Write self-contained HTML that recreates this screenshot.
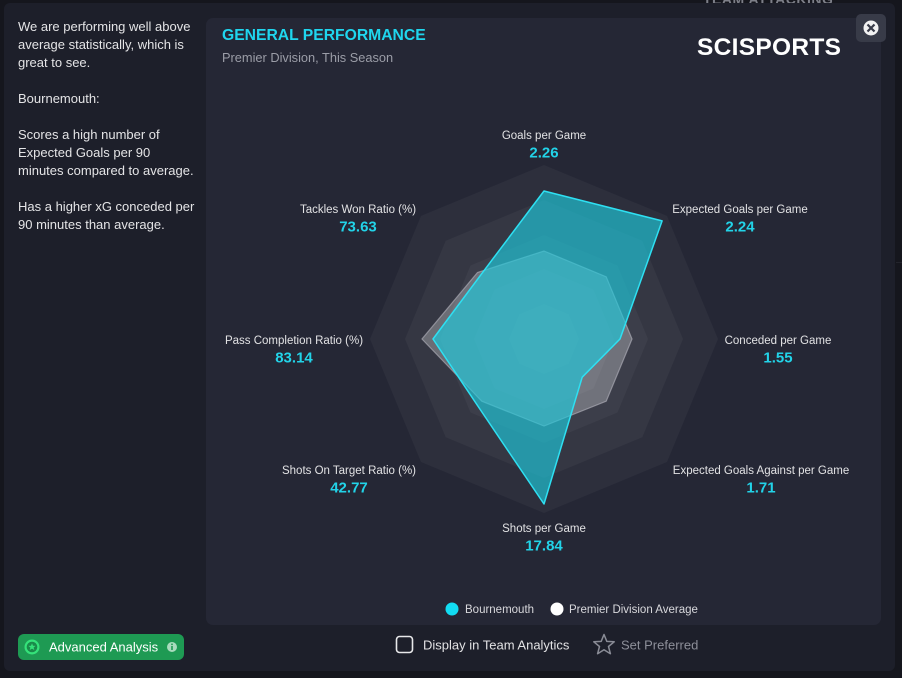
<!DOCTYPE html>
<html><head><meta charset="utf-8"><style>
html,body{margin:0;padding:0;}
body{width:902px;height:678px;background:#15161d;position:relative;overflow:hidden;font-family:"Liberation Sans",sans-serif;}
.bgt{position:absolute;left:703px;top:-9px;font-size:14px;font-weight:bold;color:#7d7f88;letter-spacing:0.5px;}
.dlg{position:absolute;left:4px;top:3px;width:891px;height:668px;background:#1d1f2a;border-radius:6px;}
.side{position:absolute;left:18px;top:18px;width:190px;color:#e4e4e6;font-size:13px;line-height:18px;white-space:nowrap;}
.side p{margin:0 0 18px 0;}
.panel{position:absolute;left:206px;top:18px;width:675px;height:607px;background:#252735;border-radius:7px;}
.title{position:absolute;left:222px;top:27px;font-size:15.7px;font-weight:bold;color:#1fd6ee;}
.sub{position:absolute;left:222px;top:50px;font-size:12.8px;color:#9b9da7;}
.logo{position:absolute;left:697px;top:34px;font-size:24.5px;font-weight:900;color:#fff;letter-spacing:0.3px;}
.close{position:absolute;left:856px;top:14px;width:30px;height:28px;background:#383b48;border-radius:5px;}
</style></head><body>
<div class="bgt">TEAM ATTACKING</div>
<div style="position:absolute;left:896px;top:262px;width:6px;height:1px;background:#23242c"></div>
<div class="dlg"></div>
<div class="side">
<p>We are performing well above<br>average statistically, which is<br>great to see.</p>
<p>Bournemouth:</p>
<p>Scores a high number of<br>Expected Goals per 90<br>minutes compared to average.</p>
<p>Has a higher xG conceded per<br>90 minutes than average.</p>
</div>
<div class="panel"></div>
<div class="title">GENERAL PERFORMANCE</div>
<div class="sub">Premier Division, This Season</div>
<div class="logo">SCISPORTS</div>
<div class="close"></div>
<svg width="902" height="678" style="position:absolute;left:0;top:0" xmlns="http://www.w3.org/2000/svg">
<circle cx="871" cy="28" r="7.5" fill="#f2f2f2"/>
<path d="M867.5 24.5 L874.5 31.5 M874.5 24.5 L867.5 31.5" stroke="#383b48" stroke-width="2.2"/>
<g fill="#ffffff" fill-opacity="0.04">
<polygon points="544,165 667.0,215.9 718,339 667.0,462.0 544,513 421.0,462.0 370,339 421.0,215.9"/>
<polygon points="544,200 642.3,240.7 683,339 642.3,437.3 544,478 445.7,437.3 405,339 445.7,240.7"/>
<polygon points="544,235 617.5,265.5 648,339 617.5,412.5 544,443 470.5,412.5 440,339 470.5,265.5"/>
<polygon points="544,269 593.5,289.5 614,339 593.5,388.5 544,409 494.5,388.5 474,339 494.5,289.5"/>
<polygon points="544,304 568.7,314.3 579,339 568.7,363.7 544,374 519.3,363.7 509,339 519.3,314.3"/>
</g>
<polygon points="544,251 606.2,276.8 632,339 606.2,401.2 544,426 481.8,401.2 422,339 477.5,272.5" fill="#ffffff" fill-opacity="0.27" stroke="#a9aab3" stroke-opacity="0.7" stroke-width="1.2"/>
<polygon points="544,191 662.1,220.9 620,339 582.2,377.2 544,504 477.5,405.5 433,339 480.4,275.4" fill="#1ec8db" fill-opacity="0.66" stroke="#2ee0f2" stroke-width="1.5" stroke-linejoin="round"/>
<g font-family="Liberation Sans, sans-serif" text-anchor="middle">
<g font-size="11.5" fill="#e2e2e4">
<text x="544" y="139">Goals per Game</text>
<text x="740" y="213">Expected Goals per Game</text>
<text x="778" y="344">Conceded per Game</text>
<text x="761" y="474">Expected Goals Against per Game</text>
<text x="544" y="532">Shots per Game</text>
<text x="349" y="474">Shots On Target Ratio (%)</text>
<text x="294" y="344">Pass Completion Ratio (%)</text>
<text x="358" y="213">Tackles Won Ratio (%)</text>
</g>
<g font-size="15" font-weight="bold" fill="#22d3e8">
<text x="544" y="157.5">2.26</text>
<text x="740" y="231.5">2.24</text>
<text x="778" y="362.5">1.55</text>
<text x="761" y="492.5">1.71</text>
<text x="544" y="550.5">17.84</text>
<text x="349" y="492.5">42.77</text>
<text x="294" y="362.5">83.14</text>
<text x="358" y="231.5">73.63</text>
</g>
</g>
<circle cx="452" cy="609" r="6.5" fill="#12dcf2"/>
<text x="465" y="613" font-family="Liberation Sans, sans-serif" font-size="11.5" fill="#d8d8dc">Bournemouth</text>
<circle cx="557" cy="609" r="6.5" fill="#ffffff"/>
<text x="569" y="613" font-family="Liberation Sans, sans-serif" font-size="11.5" fill="#d8d8dc">Premier Division Average</text>
<rect x="396.5" y="636.5" width="16" height="16" rx="3" fill="none" stroke="#e8e8ea" stroke-width="1.6"/>
<text x="423" y="649.5" font-family="Liberation Sans, sans-serif" font-size="13" fill="#e2e2e4">Display in Team Analytics</text>
<polygon points="604,634.5 606.8,641.4 614.2,641.8 608.5,646.5 610.4,653.7 604,649.7 597.6,653.7 599.5,646.5 593.8,641.8 601.2,641.4" fill="none" stroke="#8a8c96" stroke-width="1.5" stroke-linejoin="round"/>
<text x="621" y="649.5" font-family="Liberation Sans, sans-serif" font-size="13" fill="#8d8f99">Set Preferred</text>
<rect x="18" y="634" width="166" height="26" rx="6" fill="#1e9a53"/>
<circle cx="32" cy="647" r="7.5" fill="#35e27a"/>
<circle cx="32" cy="647" r="5.3" fill="#1a8a4a"/>
<polygon points="32,643.3 33,645.8 35.6,645.9 33.6,647.5 34.3,650 32,648.6 29.7,650 30.4,647.5 28.4,645.9 31,645.8" fill="#35e27a"/>
<text x="49" y="651.5" font-family="Liberation Sans, sans-serif" font-size="13" fill="#ffffff">Advanced Analysis</text>
<circle cx="172" cy="647" r="5" fill="#a9dbbd"/>
<rect x="171.2" y="646" width="1.6" height="4" fill="#1e9a53"/>
<rect x="171.2" y="643.6" width="1.6" height="1.5" fill="#1e9a53"/>
</svg>
</body></html>
